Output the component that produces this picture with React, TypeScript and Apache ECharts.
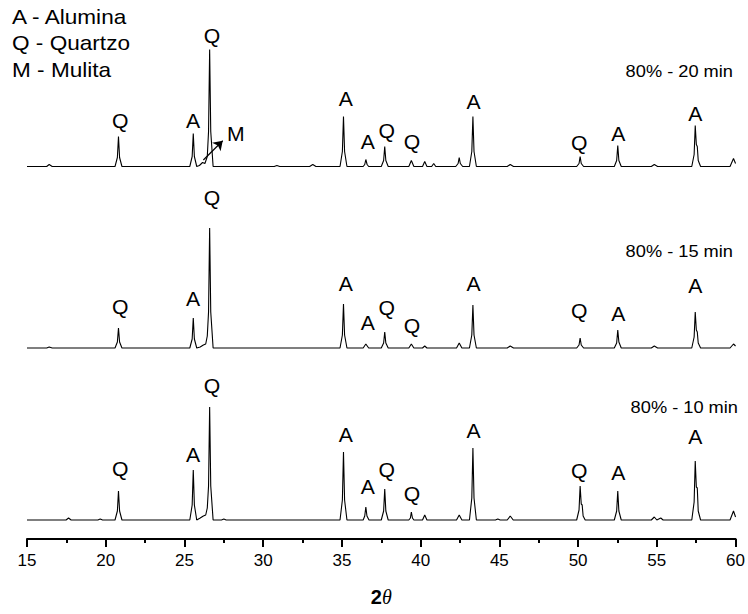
import React, { useEffect, useRef } from "react";
import * as echarts from "echarts";

// Diffractogram traces: [2θ, intensity above the trace's own baseline]
const trace20min: number[][] = [
  [15, 0],
  [16.25, 0], [16.41, 2], [16.6, 0],
  [20.59, 0], [20.74, 9], [20.81, 30], [20.88, 9], [21.03, 0],
  [25.34, 0], [25.49, 10], [25.56, 33], [25.63, 10], [25.78, 0],
  [25.95, 1], [26.15, 4], [26.3, 3], [26.45, 10], [26.53, 35], [26.6, 117], [26.67, 35], [26.82, 0],
  [30.7, 0], [30.87, 1], [31.05, 0],
  [32.95, 0], [33.15, 2], [33.35, 0],
  [34.88, 0], [35.03, 15], [35.1, 50], [35.17, 15], [35.32, 0],
  [36.35, 0], [36.45, 2], [36.52, 7], [36.6, 2], [36.7, 0],
  [37.5, 0], [37.65, 6], [37.72, 20], [37.79, 6], [37.94, 0],
  [39.25, 0], [39.41, 6], [39.57, 0],
  [40.12, 0], [40.26, 5], [40.4, 0],
  [40.7, 0], [40.83, 3], [40.96, 0],
  [42.23, 0], [42.38, 3], [42.45, 9], [42.52, 3], [42.67, 0],
  [43.1, 0], [43.25, 15], [43.32, 50], [43.39, 15], [43.54, 0],
  [45.5, 0], [45.69, 2], [45.9, 0],
  [49.91, 0], [50.06, 3], [50.13, 10], [50.2, 3], [50.35, 0],
  [52.3, 0], [52.45, 6], [52.52, 21], [52.59, 6], [52.74, 0],
  [54.65, 0], [54.84, 2], [55.05, 0],
  [57.22, 0], [57.37, 12], [57.44, 41], [57.51, 22], [57.57, 20], [57.63, 6], [57.78, 0],
  [59.65, 0], [59.87, 8], [60, 3],
];

const trace15min: number[][] = [
  [15, 0],
  [16.25, 0], [16.41, 1], [16.6, 0],
  [20.59, 0], [20.74, 6], [20.81, 20], [20.88, 6], [21.03, 0],
  [25.34, 0], [25.49, 9], [25.56, 30], [25.63, 9], [25.78, 0],
  [26.0, 1], [26.2, 3], [26.35, 4], [26.45, 12], [26.53, 36], [26.6, 120], [26.67, 36], [26.82, 0],
  [34.88, 0], [35.03, 13], [35.1, 44], [35.17, 13], [35.32, 0],
  [36.35, 0], [36.52, 4], [36.7, 0],
  [37.5, 0], [37.65, 5], [37.72, 16], [37.79, 5], [37.94, 0],
  [39.25, 0], [39.41, 4], [39.57, 0],
  [40.12, 0], [40.26, 2], [40.4, 0],
  [42.28, 0], [42.45, 5], [42.62, 0],
  [43.1, 0], [43.25, 13], [43.32, 43], [43.39, 13], [43.54, 0],
  [45.5, 0], [45.69, 2], [45.9, 0],
  [49.91, 0], [50.06, 3], [50.13, 10], [50.2, 3], [50.35, 0],
  [52.3, 0], [52.45, 5], [52.52, 18], [52.59, 6], [52.74, 0],
  [54.65, 0], [54.84, 2], [55.05, 0],
  [57.22, 0], [57.37, 11], [57.44, 36], [57.51, 18], [57.57, 16], [57.63, 5], [57.78, 0],
  [59.65, 0], [59.87, 4], [60, 2],
];

const trace10min: number[][] = [
  [15, 0],
  [17.48, 0], [17.64, 2], [17.8, 0],
  [19.5, 0], [19.65, 1], [19.8, 0],
  [20.59, 0], [20.74, 9], [20.81, 29], [20.88, 9], [21.03, 0],
  [25.34, 0], [25.49, 15], [25.56, 50], [25.63, 15], [25.78, 0],
  [26.0, 2], [26.2, 4], [26.35, 5], [26.45, 12], [26.53, 34], [26.6, 113], [26.67, 34], [26.82, 0],
  [27.35, 0], [27.5, 1], [27.65, 0],
  [34.88, 0], [35.03, 20], [35.1, 68], [35.17, 20], [35.32, 0],
  [36.35, 0], [36.45, 4], [36.52, 13], [36.59, 4], [36.72, 0],
  [37.5, 0], [37.65, 9], [37.72, 31], [37.79, 9], [37.94, 0],
  [39.25, 0], [39.35, 2], [39.41, 8], [39.48, 2], [39.57, 0],
  [40.12, 0], [40.26, 5], [40.4, 0],
  [42.28, 0], [42.45, 5], [42.62, 0],
  [43.1, 0], [43.25, 22], [43.32, 72], [43.39, 22], [43.54, 0],
  [44.75, 0], [44.9, 1], [45.05, 0],
  [45.5, 0], [45.69, 4], [45.88, 0],
  [49.91, 0], [50.06, 10], [50.13, 34], [50.2, 16], [50.26, 15], [50.32, 4], [50.45, 0],
  [52.3, 0], [52.45, 9], [52.52, 29], [52.59, 9], [52.74, 0],
  [54.65, 0], [54.84, 3], [55.0, 0], [55.25, 2], [55.4, 0],
  [57.22, 0], [57.37, 18], [57.44, 59], [57.51, 33], [57.57, 32], [57.63, 9], [57.78, 0],
  [59.65, 0], [59.87, 9], [60, 3],
];

// Vertical offsets of each trace (stacked plot)
const traceNames = ["80% - 20 min", "80% - 15 min", "80% - 10 min"];
const traceOffsets = [372.5, 191, 19];

// Phase labels above peaks
const peakLetters = ["Q", "A", "Q", "A", "A", "Q", "Q", "A", "Q", "A", "A"];
const peakLabelX = [20.92, 25.55, 26.75, 35.25, 36.64, 37.85, 39.45, 43.36, 50.07, 52.56, 57.44];
const topLabelY = [418, 418, 503, 440, 397, 408, 397, 437, 396, 405, 425];
const midLabelY = [232, 240, 341, 255, 216, 231, 213, 255, 228, 225, 253];
const botLabelY = [70, 84, 153, 104, 52, 69, 45, 108, 68, 66, 102];

// Mullite marker with arrow
const mulliteLabel = { text: "M", x: 28.27, y: 405 };
const mulliteArrow = { from: [26.2, 379], to: [27.43, 398.3] };

const legendLines = ["A - Alumina", "Q - Quartzo", "M - Mulita"];

const xTicks = { min: 15, max: 60, interval: 5 };

const FONT = "'Liberation Sans', Arial, Helvetica, sans-serif";

export default function App() {
  const ref = useRef<HTMLDivElement>(null);

  useEffect(() => {
    document.body.style.margin = "0";
    if (!ref.current) return;
    const chart = echarts.init(ref.current, undefined, { renderer: "svg" });

    const traces = [trace20min, trace15min, trace10min];
    const labelYs = [topLabelY, midLabelY, botLabelY];

    const annoData: any[] = [];
    const annoText: string[] = [];
    labelYs.forEach((ys) => {
      ys.forEach((y, i) => {
        annoData.push([peakLabelX[i], y]);
        annoText.push(peakLetters[i]);
      });
    });
    annoData.push([mulliteLabel.x, mulliteLabel.y]);
    annoText.push(mulliteLabel.text);

    const lineSeries = traces.map((tr, k) => ({
      type: "line",
      name: traceNames[k],
      data: tr.map((p) => [p[0], p[1] + traceOffsets[k]]),
      symbol: "none",
      smooth: false,
      silent: true,
      lineStyle: { color: "#000", width: 1.1 },
      ...(k === 0
        ? {
            markLine: {
              silent: true,
              symbol: ["none", "arrow"],
              symbolSize: 9,
              label: { show: false },
              lineStyle: { color: "#000", width: 1.2, type: "solid" },
              data: [[{ coord: mulliteArrow.from }, { coord: mulliteArrow.to }]],
            },
          }
        : {}),
    }));

    const option: any = {
      animation: false,
      grid: { left: 27, right: 12, top: 19, bottom: 75 },
      xAxis: {
        type: "value",
        min: xTicks.min,
        max: xTicks.max,
        interval: xTicks.interval,
        axisLine: { show: true, lineStyle: { color: "#000", width: 2 } },
        axisTick: { show: true, inside: false, length: 8, lineStyle: { color: "#000", width: 2 } },
        minorTick: { show: true, splitNumber: 2, length: 4, lineStyle: { color: "#000", width: 2 } },
        splitLine: { show: false },
        axisLabel: { color: "#000", fontSize: 17, fontFamily: FONT, margin: 13 },
        name: "{b|2}{i|θ}",
        nameLocation: "middle",
        nameGap: 48,
        nameTextStyle: {
          rich: {
            b: { fontWeight: "bold", fontSize: 20, fontFamily: FONT, color: "#000" },
            i: { fontStyle: "italic", fontSize: 20, fontFamily: "'Liberation Serif', 'DejaVu Serif', serif", color: "#000" },
          },
        },
      },
      yAxis: { type: "value", min: 0, max: 520, show: false },
      series: [
        ...lineSeries,
        {
          type: "custom",
          silent: true,
          clip: false,
          data: annoData,
          renderItem: (params: any, api: any) => {
            const p = api.coord([api.value(0), api.value(1)]);
            return {
              type: "text",
              x: p[0],
              y: p[1],
              scaleX: 1.06,
              style: {
                text: annoText[params.dataIndex],
                fontSize: 20,
                fontFamily: FONT,
                fill: "#000",
                align: "center",
                verticalAlign: "middle",
              },
            };
          },
        },
      ],
      graphic: [
        ...legendLines.map((t, i) => ({
          type: "text",
          x: 12,
          y: 17 + i * 26.5,
          scaleX: 1.13,
          silent: true,
          style: { text: t, fontSize: 20, fontFamily: FONT, fill: "#000", align: "left", verticalAlign: "middle" },
        })),
        ...[71, 251, 407].map((cy, i) => ({
          type: "text",
          x: i === 2 ? 738 : 733,
          y: cy,
          scaleX: 1.14,
          silent: true,
          style: { text: traceNames[i], fontSize: 16, fontFamily: FONT, fill: "#000", align: "right", verticalAlign: "middle" },
        })),
      ],
    };

    chart.setOption(option);
    return () => chart.dispose();
  }, []);

  return <div ref={ref} style={{ width: 748, height: 614 }} />;
}
